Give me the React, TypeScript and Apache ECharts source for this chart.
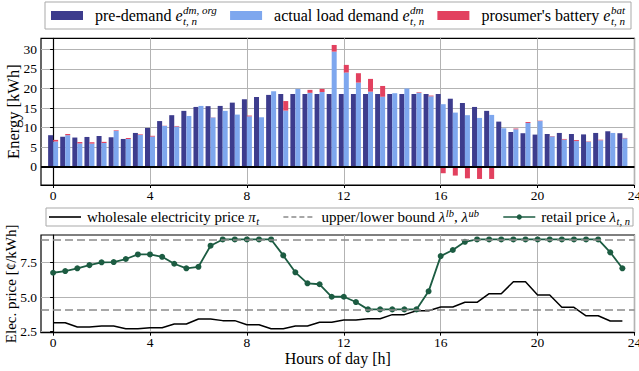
import React, { useEffect, useRef } from 'react';
import * as echarts from 'echarts';

// ---------- data ----------
const hours = [
  0, 0.5, 1, 1.5, 2, 2.5, 3, 3.5, 4, 4.5, 5, 5.5, 6, 6.5, 7, 7.5, 8, 8.5, 9, 9.5, 10, 10.5, 11, 11.5,
  12, 12.5, 13, 13.5, 14, 14.5, 15, 15.5, 16, 16.5, 17, 17.5, 18, 18.5, 19, 19.5, 20, 20.5, 21, 21.5, 22, 22.5, 23, 23.5,
];
const preDemand = [
  8.1, 7.7, 7.5, 7.65, 7.9, 7.57, 7.14, 8.67, 9.95, 11.7, 13.2, 14.3, 15.3, 15.5, 15.56, 16.4, 17.26, 17.86, 18.37, 18.6, 18.6, 18.6, 18.6, 18.6,
  18.6, 18.6, 18.6, 18.6, 18.6, 18.6, 18.6, 18.6, 18.6, 17.4, 16.3, 15.3, 14.3, 11.56, 8.93, 8.6, 8.25, 8.4, 8.67, 8.4, 8.3, 8.67, 9.1, 8.6,
];
const actualDemand = [
  6.5, 8.1, 6.0, 5.95, 6.1, 9.2, 7.14, 8.16, 7.74, 10.46, 10.3, 13.0, 15.56, 12.6, 14.3, 13.35, 12.9, 12.67, 19.3, 14.37, 19.9, 18.9, 19.1, 29.4,
  24.07, 21.5, 19.2, 17.9, 18.8, 20.0, 18.9, 18.0, 16.0, 13.86, 13.2, 12.5, 13.27, 9.86, 9.6, 11.2, 11.7, 7.8, 6.97, 6.6, 6.4, 6.8, 8.67, 7.3,
];
const battery = [
  0.4, 0.3, 0.35, 0.35, 0.3, 0.15, 0.25, 0.15, 0.2, 0.05, 0.15, 0, 0, 0.05, 0, 0, 0.2, 0, 0, 2.43, 0, 0.75, 0.8, 1.7,
  1.95, 2.4, 3.25, 2.75, 0, 0, 0.15, 0.2, -1.6, -2.2, -2.9, -3.06, -3.06, 0, 0.2, 0.25, 0.1, 0.1, 0.17, 0.25, 0.1, 0.15, 0, 0.1,
];
const wholesalePrice = [
  3.15, 3.15, 2.84, 2.84, 2.91, 2.91, 2.72, 2.72, 2.79, 2.79, 3.06, 3.06, 3.42, 3.42, 3.3, 3.3, 3.0, 3.0, 2.72, 2.72, 2.91, 2.91, 3.18, 3.18,
  3.34, 3.34, 3.44, 3.44, 3.73, 3.73, 4.01, 4.01, 4.28, 4.28, 4.62, 4.62, 5.24, 5.24, 6.1, 6.1, 5.14, 5.14, 4.26, 4.26, 3.65, 3.65, 3.27, 3.27,
];
const retailPrice = [
  6.75, 6.87, 7.07, 7.3, 7.5, 7.52, 7.74, 8.07, 8.07, 7.9, 7.4, 7.07, 7.18, 8.7, 9.15, 9.15, 9.15, 9.15, 9.15, 8.0, 6.78, 5.99, 5.92, 5.02,
  5.02, 4.64, 4.11, 4.11, 4.11, 4.11, 4.11, 5.41, 7.95, 8.39, 8.98, 9.15, 9.15, 9.15, 9.15, 9.15, 9.15, 9.15, 9.15, 9.15, 9.15, 9.15, 8.22, 7.07,
];
const lowerBound = 4.11;
const upperBound = 9.15;
const hourTicks = [0, 4, 8, 12, 16, 20, 24];
const energyTicks = [0, 5, 10, 15, 20, 25, 30];
const priceTicks = [2.5, 5.0, 7.5];

// ---------- style ----------
const FONT = '"Liberation Serif", "Times New Roman", serif';
const C_PRE = '#3d3c8d';
const C_ACT = '#7ea7ee';
const C_BAT = '#e2415f';
const C_RETAIL = '#1c5c42';
const C_GRID = '#b3b3b3';

let measureCtx: CanvasRenderingContext2D | null = null;
function tw(text: string, size: number, italic = false): number {
  if (!measureCtx) measureCtx = document.createElement('canvas').getContext('2d');
  if (!measureCtx) return text.length * size * 0.5;
  measureCtx.font = `${italic ? 'italic ' : ''}${size}px ${FONT}`;
  return measureCtx.measureText(text).width;
}

type Tok = { t: string; it?: boolean; sup?: string; sub?: string };
type Item = { swatch: (x: number, y: number, w: number) => any[]; toks: Tok[] };

function tokWidth(tk: Tok, size: number, small: number) {
  const w = tw(tk.t, size, !!tk.it);
  let extra = 0;
  if (tk.sup) extra = Math.max(extra, tw(tk.sup, small, true) + 0.5);
  if (tk.sub) extra = Math.max(extra, tw(tk.sub, small, true) + 0.5);
  return w + extra;
}

function buildLegend(
  items: Item[],
  box: { x: number; y: number; w: number; h: number },
  size: number,
  small: number,
  opts: { pad: number; swW: number; swGap: number; supDy: number; subDy: number }
) {
  const els: any[] = [];
  els.push({
    type: 'rect',
    shape: { x: box.x, y: box.y, width: box.w, height: box.h },
    style: { fill: '#fff', stroke: '#a9a9a9', lineWidth: 1 },
    z: 100,
  });
  const widths = items.map((it) => opts.swW + opts.swGap + it.toks.reduce((s, tk) => s + tokWidth(tk, size, small), 0));
  const total = widths.reduce((a, b) => a + b, 0);
  const gap = items.length > 1 ? (box.w - 2 * opts.pad - total) / (items.length - 1) : 0;
  const cy = box.y + box.h / 2;
  let x = box.x + opts.pad;
  items.forEach((it) => {
    els.push(...it.swatch(x, cy, opts.swW));
    x += opts.swW + opts.swGap;
    it.toks.forEach((tk) => {
      els.push({
        type: 'text',
        x,
        y: cy,
        z: 101,
        style: {
          text: tk.t,
          font: `${tk.it ? 'italic ' : ''}${size}px ${FONT}`,
          fill: '#000',
          verticalAlign: 'middle',
          align: 'left',
        },
      });
      const base = tw(tk.t, size, !!tk.it);
      if (tk.sup) {
        els.push({
          type: 'text', x: x + base + 0.5, y: cy + opts.supDy, z: 101,
          style: { text: tk.sup, font: `italic ${small}px ${FONT}`, fill: '#000', verticalAlign: 'middle', align: 'left' },
        });
      }
      if (tk.sub) {
        els.push({
          type: 'text', x: x + base + 0.5, y: cy + opts.subDy, z: 101,
          style: { text: tk.sub, font: `italic ${small}px ${FONT}`, fill: '#000', verticalAlign: 'middle', align: 'left' },
        });
      }
      x += tokWidth(tk, size, small);
    });
    x += gap;
  });
  return els;
}

const rectSwatch = (color: string) => (x: number, y: number, w: number) => [
  { type: 'rect', z: 101, shape: { x, y: y - 4.5, width: w, height: 9 }, style: { fill: color } },
];

export default function App() {
  const ref = useRef<HTMLDivElement>(null);

  useEffect(() => {
    document.body.style.margin = '0';
    if (!ref.current) return;
    const chart = echarts.init(ref.current, undefined, { renderer: 'svg' });

    const topItems: Item[] = [
      { swatch: rectSwatch(C_PRE), toks: [{ t: 'pre-demand ' }, { t: 'e', it: true, sup: 'dm, org', sub: 't, n' }] },
      { swatch: rectSwatch(C_ACT), toks: [{ t: 'actual load demand ' }, { t: 'e', it: true, sup: 'dm', sub: 't, n' }] },
      { swatch: rectSwatch(C_BAT), toks: [{ t: "prosumer's battery " }, { t: 'e', it: true, sup: 'bat', sub: 't, n' }] },
    ];
    const botItems: Item[] = [
      {
        swatch: (x, y, w) => [{ type: 'line', z: 101, shape: { x1: x, y1: y, x2: x + w, y2: y }, style: { stroke: '#000', lineWidth: 1.6 } }],
        toks: [{ t: 'wholesale electricity price ' }, { t: 'π', it: true, sub: 't' }],
      },
      {
        swatch: (x, y, w) => [{ type: 'line', z: 101, shape: { x1: x, y1: y, x2: x + w, y2: y }, style: { stroke: '#8a8a8a', lineWidth: 1.6, lineDash: [5, 3] } }],
        toks: [{ t: 'upper/lower bound ' }, { t: 'λ', it: true, sup: 'lb' }, { t: ', ' }, { t: 'λ', it: true, sup: 'ub' }],
      },
      {
        swatch: (x, y, w) => [
          { type: 'line', z: 101, shape: { x1: x, y1: y, x2: x + w, y2: y }, style: { stroke: C_RETAIL, lineWidth: 1.6 } },
          { type: 'circle', z: 102, shape: { cx: x + w / 2, cy: y, r: 2.6 }, style: { fill: C_RETAIL } },
        ],
        toks: [{ t: 'retail price ' }, { t: 'λ', it: true, sub: 't, n' }],
      },
    ];

    const graphic = [
      ...buildLegend(topItems, { x: 45, y: 2, w: 586, h: 27 }, 16, 11, { pad: 6, swW: 32, swGap: 12, supDy: -5.5, subDy: 5.5 }),
      ...buildLegend(botItems, { x: 46, y: 208, w: 587, h: 18 }, 15, 10.5, { pad: 3, swW: 32, swGap: 6, supDy: -4, subDy: 4 }),
    ];

    const axisText = { fontFamily: FONT, fontSize: 13.5, color: '#000' };
    const xAxisCommon = {
      type: 'value' as const,
      min: -0.5,
      max: 24,
      axisLine: { show: true, onZero: false, lineStyle: { color: '#000', width: 1.2 } },
      axisTick: { show: true, length: 3, customValues: hourTicks, lineStyle: { color: '#000' } },
      axisLabel: { ...axisText, margin: 3, customValues: hourTicks },
      splitLine: { show: true, lineStyle: { color: C_GRID, width: 1 } },
    };

    const barData = (vals: number[]) => hours.map((h, i) => [vals[i], h]);

    const option: any = {
      animation: false,
      backgroundColor: '#fff',
      textStyle: { fontFamily: FONT },
      graphic,
      grid: [
        { left: 41, right: 4.5, top: 38.3, height: 146.7, show: true, borderColor: '#000', borderWidth: 1.2, outerBoundsMode: 'none', containLabel: false },
        { left: 41, right: 4.5, top: 235, height: 97.7, show: true, borderColor: '#000', borderWidth: 1.2, outerBoundsMode: 'none', containLabel: false },
      ],
      xAxis: [
        { ...xAxisCommon, gridIndex: 0 },
        {
          ...xAxisCommon,
          gridIndex: 1,
          name: 'Hours of day [h]',
          nameLocation: 'middle',
          nameGap: 17.5,
          nameMoveOverlap: false,
          nameTextStyle: { fontFamily: FONT, fontSize: 16, color: '#000' },
        },
      ],
      yAxis: [
        {
          type: 'value',
          gridIndex: 0,
          min: -4.6,
          max: 32.8,
          name: 'Energy [kWh]',
          nameLocation: 'middle',
          nameGap: 19,
          nameMoveOverlap: false,
          nameTextStyle: { fontFamily: FONT, fontSize: 16.5, color: '#000' },
          axisLine: { show: true, lineStyle: { color: '#000', width: 1.2 } },
          axisTick: { show: true, length: 3, customValues: energyTicks, lineStyle: { color: '#000' } },
          axisLabel: { ...axisText, margin: 4, customValues: energyTicks },
          splitLine: { show: true, lineStyle: { color: C_GRID, width: 1 } },
        },
        {
          type: 'value',
          gridIndex: 1,
          min: 2.43,
          max: 9.47,
          name: 'Elec. price [¢/kWh]',
          nameLocation: 'middle',
          nameGap: 23,
          nameMoveOverlap: false,
          nameTextStyle: { fontFamily: FONT, fontSize: 15, color: '#000' },
          axisLine: { show: true, lineStyle: { color: '#000', width: 1.2 } },
          axisTick: { show: true, length: 3, customValues: priceTicks, lineStyle: { color: '#000' } },
          axisLabel: { ...axisText, margin: 4, customValues: priceTicks, formatter: (v: number) => v.toFixed(1) },
          splitLine: { show: true, lineStyle: { color: C_GRID, width: 1 } },
        },
      ],
      series: [
        {
          name: 'pre-demand',
          type: 'bar',
          xAxisIndex: 0,
          yAxisIndex: 0,
          stack: 'pre',
          barWidth: 5,
          barGap: '0%',
          encode: { x: 1, y: 0 },
          itemStyle: { color: C_PRE },
          data: barData(preDemand),
        },
        {
          name: 'actual load demand',
          type: 'bar',
          xAxisIndex: 0,
          yAxisIndex: 0,
          stack: 'act',
          barWidth: 5,
          barGap: '0%',
          encode: { x: 1, y: 0 },
          itemStyle: { color: C_ACT },
          data: barData(actualDemand),
        },
        {
          name: "prosumer's battery",
          type: 'bar',
          xAxisIndex: 0,
          yAxisIndex: 0,
          stack: 'act',
          barWidth: 5,
          barGap: '0%',
          encode: { x: 1, y: 0 },
          itemStyle: { color: C_BAT },
          data: barData(battery),
          markLine: {
            silent: true,
            symbol: 'none',
            label: { show: false },
            lineStyle: { color: '#000', width: 2, type: 'solid' },
            data: [{ yAxis: 0 }],
          },
        },
        {
          name: 'wholesale electricity price',
          type: 'line',
          xAxisIndex: 1,
          yAxisIndex: 1,
          symbol: 'none',
          lineStyle: { color: '#000', width: 1.5 },
          itemStyle: { color: '#000' },
          data: hours.map((h, i) => [h, wholesalePrice[i]]),
          markLine: {
            silent: true,
            symbol: 'none',
            label: { show: false },
            lineStyle: { color: '#8a8a8a', width: 1.5, type: [8, 4] },
            data: [{ yAxis: lowerBound }, { yAxis: upperBound }],
          },
        },
        {
          name: 'retail price',
          type: 'line',
          xAxisIndex: 1,
          yAxisIndex: 1,
          symbol: 'circle',
          symbolSize: 6,
          lineStyle: { color: C_RETAIL, width: 1.8 },
          itemStyle: { color: C_RETAIL },
          data: hours.map((h, i) => [h, retailPrice[i]]),
        },
      ],
    };

    chart.setOption(option);
    return () => chart.dispose();
  }, []);

  return <div ref={ref} style={{ width: 639, height: 371 }} />;
}
